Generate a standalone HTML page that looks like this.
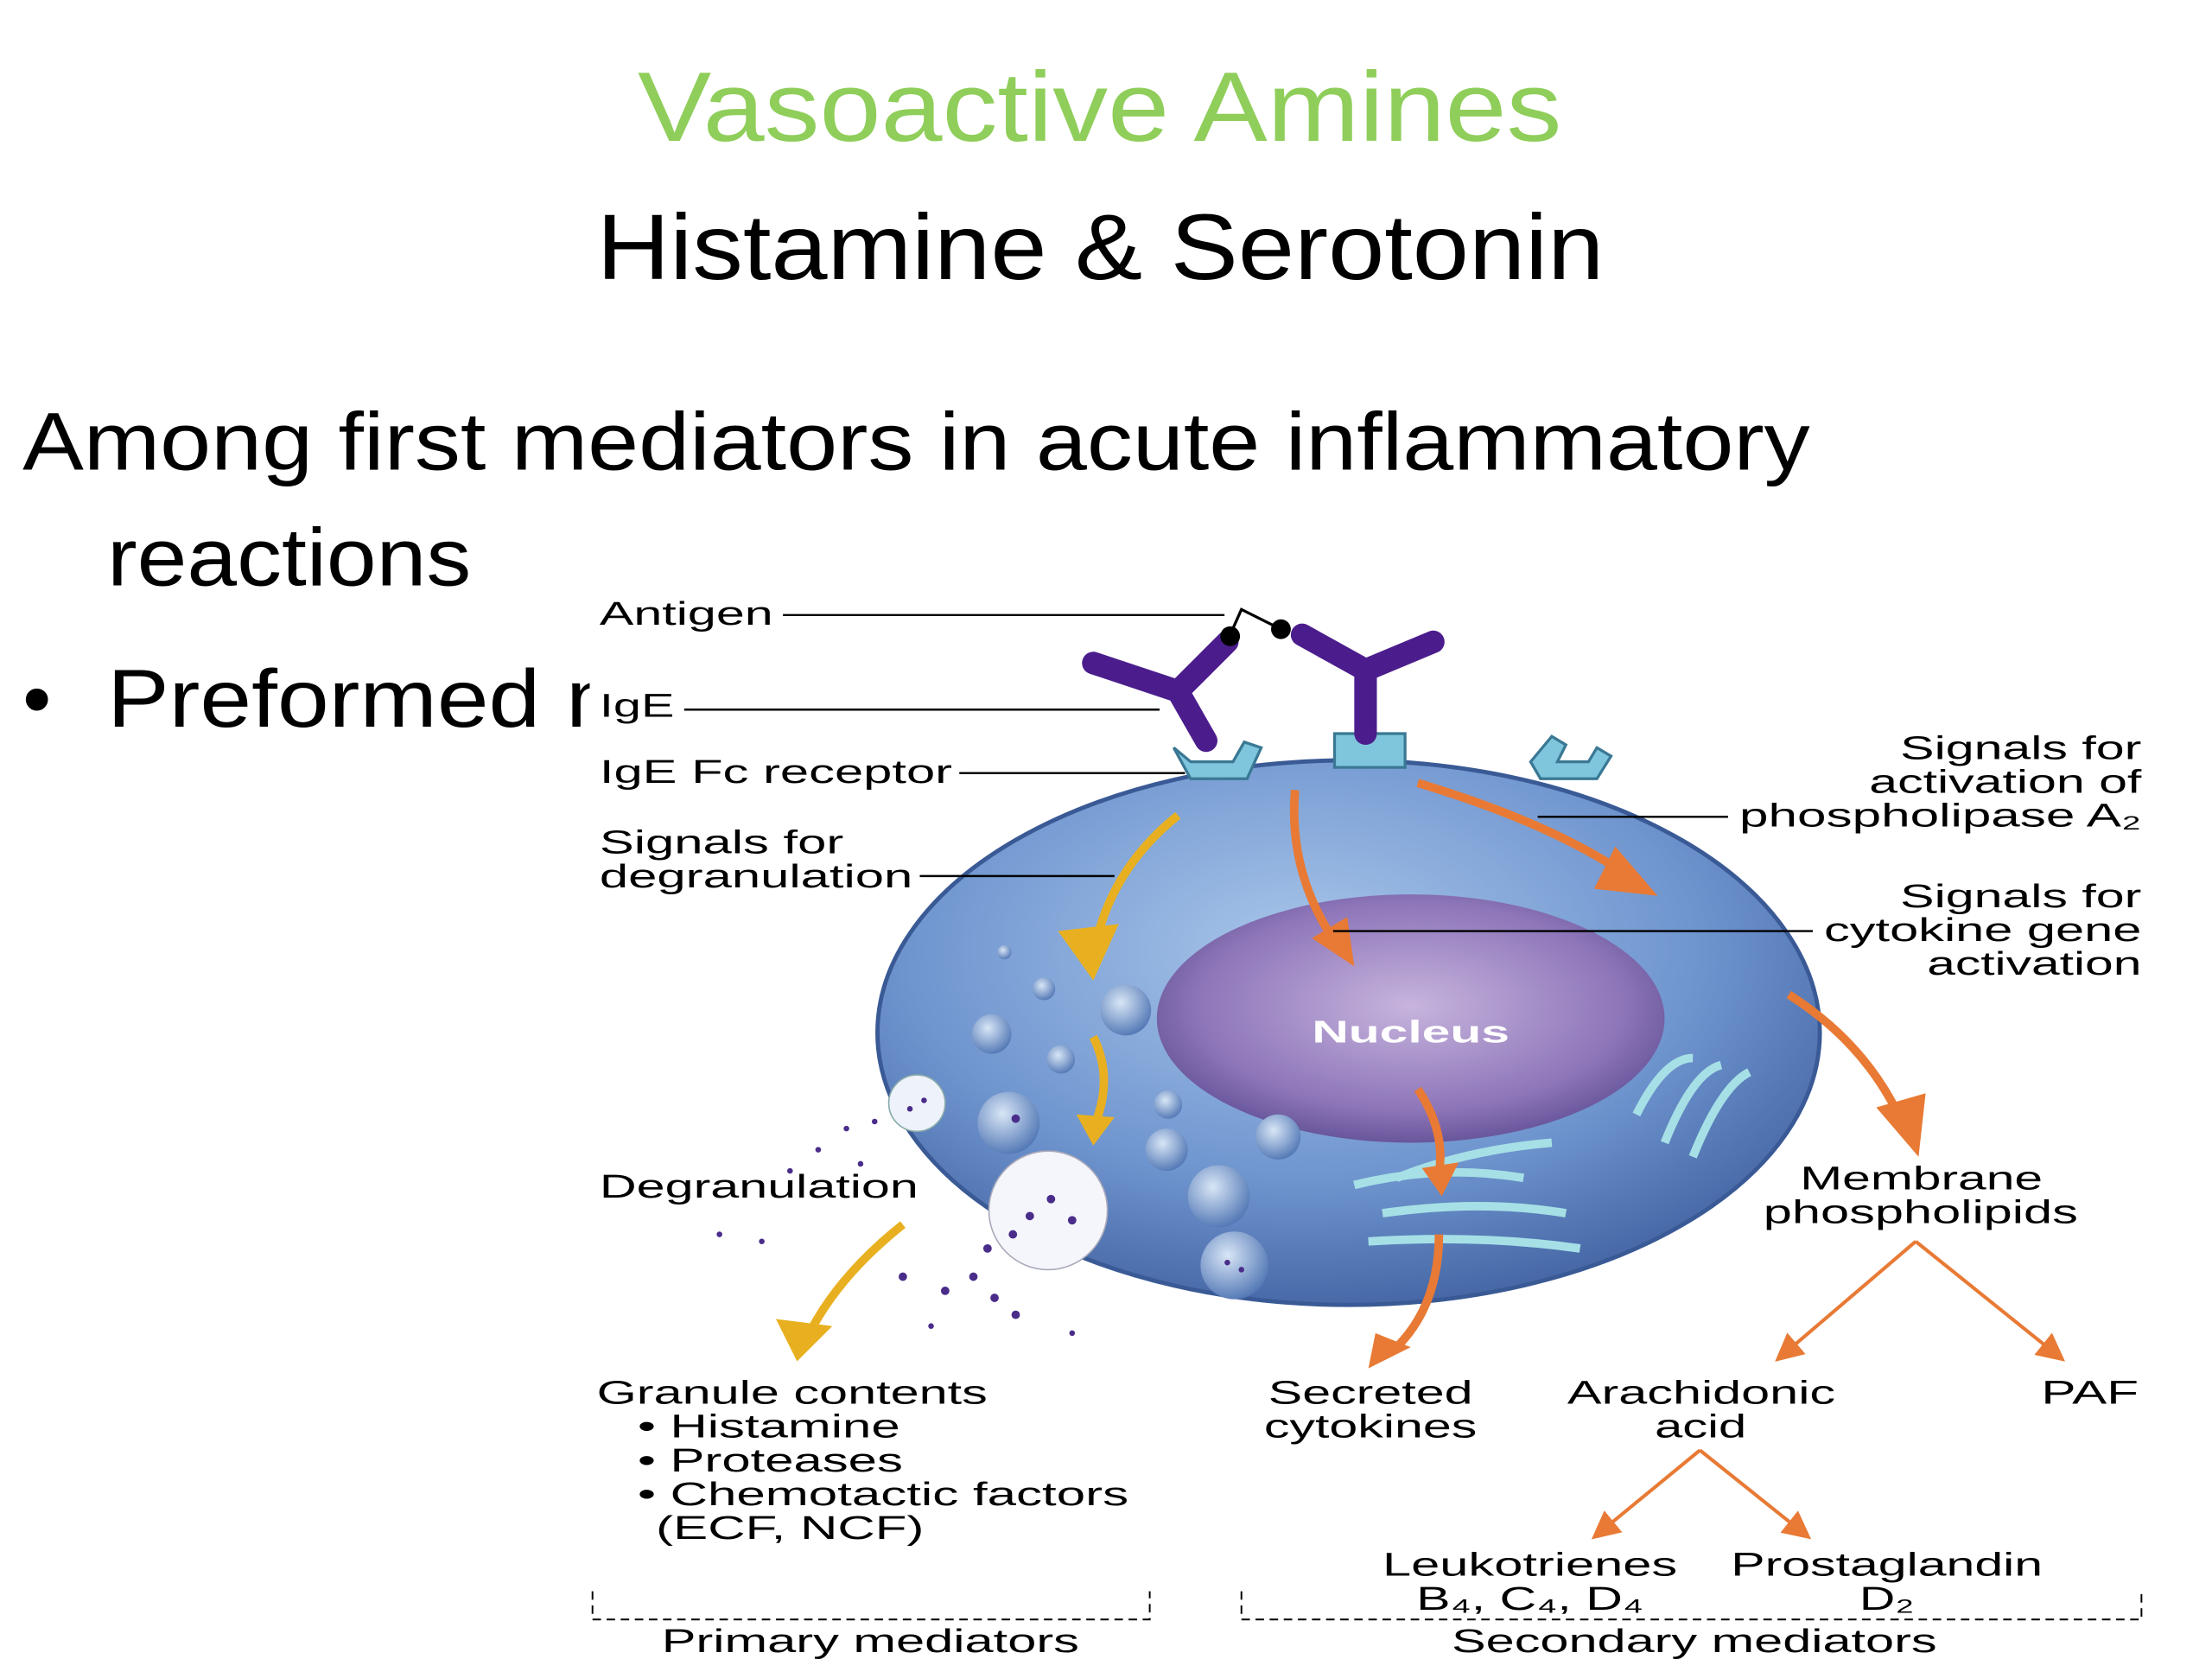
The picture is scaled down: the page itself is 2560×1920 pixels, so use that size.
<!DOCTYPE html>
<html><head><meta charset="utf-8"><style>
html,body{margin:0;padding:0;background:#fff;width:2560px;height:1920px;overflow:hidden}
svg{display:block}
</style></head><body>
<svg width="2560" height="1920" viewBox="0 0 1568 1176" xmlns="http://www.w3.org/2000/svg">
<defs>
<radialGradient id="cell" cx="0.45" cy="0.35" r="0.7">
<stop offset="0" stop-color="#a9c6ea"/><stop offset="0.6" stop-color="#6f95cf"/><stop offset="1" stop-color="#3f5f9e"/>
</radialGradient>
<radialGradient id="nuc" cx="0.5" cy="0.45" r="0.6">
<stop offset="0" stop-color="#c7b4dd"/><stop offset="0.7" stop-color="#8d75b9"/><stop offset="1" stop-color="#5b4b8f"/>
</radialGradient>
<radialGradient id="gran" cx="0.4" cy="0.35" r="0.7">
<stop offset="0" stop-color="#d8e6f6"/><stop offset="1" stop-color="#4e74b3"/>
</radialGradient>
<marker id="oa" markerWidth="8" markerHeight="8" refX="6" refY="4" orient="auto"><path d="M0,0 L8,4 L0,8 z" fill="#e87a35"/></marker>
</defs>
<rect width="1568" height="1176" fill="#fff"/>
<g font-family="Liberation Sans, sans-serif" lengthAdjust="spacingAndGlyphs">
<text x="452" y="100" font-size="70" fill="#8fce5a" textLength="655" lengthAdjust="spacingAndGlyphs">Vasoactive Amines</text>
<text x="423" y="198" font-size="66" fill="#000" textLength="714" lengthAdjust="spacingAndGlyphs">Histamine &amp; Serotonin</text>
<text x="16" y="333" font-size="58" fill="#000" textLength="1267" lengthAdjust="spacingAndGlyphs">Among first mediators in acute inflammatory</text>
<text x="76" y="415" font-size="58" fill="#000" textLength="258" lengthAdjust="spacingAndGlyphs">reactions</text>
<text x="16" y="515" font-size="58" fill="#000">•</text>
<text x="76" y="515" font-size="58" fill="#000" textLength="380" lengthAdjust="spacingAndGlyphs">Preformed m</text>
</g>
<rect x="418" y="420" width="1130" height="756" fill="#fff"/>
<ellipse cx="956" cy="732" rx="334" ry="193" fill="url(#cell)" stroke="#3a5a96" stroke-width="3"/>
<ellipse cx="1000" cy="722" rx="180" ry="88" fill="url(#nuc)"/>
<text x="1000" y="739" text-anchor="middle" font-family="Liberation Sans, sans-serif" font-weight="bold" font-size="22" fill="#fff" textLength="140" lengthAdjust="spacingAndGlyphs">Nucleus</text>
<g fill="url(#gran)">
<circle cx="798" cy="716" r="18"/><circle cx="703" cy="733" r="14"/><circle cx="740" cy="701" r="8"/><circle cx="752" cy="751" r="10"/>
<circle cx="712" cy="675" r="5"/><circle cx="828" cy="783" r="10"/><circle cx="827" cy="815" r="15"/><circle cx="864" cy="848" r="22"/>
<circle cx="906" cy="806" r="16"/><circle cx="715" cy="796" r="22"/><circle cx="875" cy="897" r="24"/>
</g>
<circle cx="650" cy="782" r="20" fill="#eef2fa" stroke="#8aa" />
<circle cx="743" cy="858" r="42" fill="#f4f6fb" stroke="#aab"/>
<g fill="#4a2d8a">
<circle cx="730" cy="862" r="3"/><circle cx="745" cy="850" r="3"/><circle cx="760" cy="865" r="3"/><circle cx="718" cy="875" r="3"/><circle cx="700" cy="885" r="3"/>
<circle cx="690" cy="905" r="3"/><circle cx="670" cy="915" r="3"/><circle cx="705" cy="920" r="3"/><circle cx="640" cy="905" r="3"/><circle cx="600" cy="800" r="2"/>
<circle cx="580" cy="815" r="2"/><circle cx="620" cy="795" r="2"/><circle cx="610" cy="825" r="2"/><circle cx="560" cy="830" r="2"/><circle cx="510" cy="875" r="2"/>
<circle cx="660" cy="940" r="2"/><circle cx="720" cy="932" r="3"/><circle cx="760" cy="945" r="2"/><circle cx="540" cy="880" r="2"/><circle cx="720" cy="793" r="3"/>
<circle cx="870" cy="895" r="2"/><circle cx="880" cy="900" r="2"/><circle cx="655" cy="780" r="2"/><circle cx="645" cy="786" r="2"/>
</g>
<g fill="none" stroke="#a6e0e6" stroke-width="6">
<path d="M960 840 q60 -15 120 -5"/><path d="M980 860 q70 -10 130 0"/><path d="M970 880 q80 -5 150 5"/><path d="M990 835 q50 -20 110 -25"/>
<path d="M1160 790 q20 -40 40 -40"/><path d="M1180 810 q20 -50 40 -55"/><path d="M1200 820 q20 -50 40 -60"/>
</g>
<g fill="#7fc6dc" stroke="#3a7894" stroke-width="2">
<path d="M832 530 l12 10 h30 l8 -14 l12 4 l-10 22 h-40 z"/>
<path d="M946 520 h50 v24 h-50 z"/>
<path d="M1085 540 l15 -18 l10 6 l-6 12 h22 l6 -10 l10 6 l-10 16 h-40 z"/>
</g>
<g stroke="#4b1d8c" stroke-width="16" fill="none" stroke-linecap="round">
<path d="M855 525 l-20 -35 l-60 -20"/><path d="M835 490 l35 -35"/>
<path d="M968 520 v-45 l-45 -25"/><path d="M968 475 l48 -20"/>
</g>
<path d="M872 450 l8 -18 l28 14" stroke="#000" stroke-width="2" fill="none"/>
<circle cx="872" cy="451" r="7" fill="#000"/><circle cx="908" cy="446" r="7" fill="#000"/>
<g fill="none" stroke="#e8b020" stroke-width="6">
<path d="M835 578 q-50 40 -60 100"/><path d="M775 735 q15 30 0 65"/><path d="M640 868 q-50 40 -70 85"/>
</g>
<g fill="#e8b020"><path d="M750 660 l25 35 l18 -40 z"/><path d="M763 790 l12 22 l15 -20 z"/><path d="M550 935 l15 30 l25 -25 z"/></g>
<g fill="none" stroke="#e87a35" stroke-width="6">
<path d="M918 560 q-5 60 30 110"/><path d="M1005 555 q100 30 155 70"/><path d="M1268 705 q55 35 80 90"/>
<path d="M1005 772 q20 30 15 60"/><path d="M1020 875 q0 50 -30 80"/>
</g>
<g fill="#e87a35"><path d="M930 665 l30 20 l-5 -35 z"/><path d="M1145 600 l30 35 l-45 -5 z"/><path d="M1330 785 l30 35 l5 -45 z"/><path d="M1008 828 l14 20 l12 -24 z"/><path d="M975 945 l-5 25 l30 -15 z"/></g>
<g stroke="#000" stroke-width="1.5">
<line x1="555" y1="436" x2="868" y2="436"/><line x1="485" y1="503" x2="822" y2="503"/><line x1="680" y1="548" x2="840" y2="548"/>
<line x1="652" y1="621" x2="790" y2="621"/><line x1="1090" y1="579" x2="1225" y2="579"/><line x1="945" y1="660" x2="1285" y2="660"/>
</g>
<g stroke="#e87a35" stroke-width="2.5" fill="none" marker-end="url(#oa)">
<path d="M1358 880 L1262 962"/><path d="M1358 880 L1460 962"/><path d="M1205 1028 L1132 1088"/><path d="M1205 1028 L1280 1088"/>
</g>
<g stroke="#000" stroke-width="1.2" stroke-dasharray="6,4" fill="none">
<path d="M420 1128 v20 h395 v-20"/><path d="M880 1128 v20 h638 v-20"/>
</g>
<g font-family="Liberation Sans, sans-serif" font-size="23" fill="#000" lengthAdjust="spacingAndGlyphs">
<text x="425" y="443" textLength="123" lengthAdjust="spacingAndGlyphs">Antigen</text>
<text x="425" y="508" textLength="53" lengthAdjust="spacingAndGlyphs">IgE</text>
<text x="425" y="555" textLength="250" lengthAdjust="spacingAndGlyphs">IgE Fc receptor</text>
<text x="425" y="605" textLength="173" lengthAdjust="spacingAndGlyphs">Signals for</text><text x="425" y="629" textLength="222" lengthAdjust="spacingAndGlyphs">degranulation</text>
<text x="1347" y="538" textLength="171" lengthAdjust="spacingAndGlyphs">Signals for</text><text x="1325" y="562" textLength="193" lengthAdjust="spacingAndGlyphs">activation of</text><text x="1233" y="586" textLength="285" lengthAdjust="spacingAndGlyphs">phospholipase A₂</text>
<text x="1347" y="643" textLength="171" lengthAdjust="spacingAndGlyphs">Signals for</text><text x="1293" y="667" textLength="225" lengthAdjust="spacingAndGlyphs">cytokine gene</text><text x="1366" y="691" textLength="152" lengthAdjust="spacingAndGlyphs">activation</text>
<text x="425" y="849" textLength="226" lengthAdjust="spacingAndGlyphs">Degranulation</text>
<text x="1276" y="843" textLength="172" lengthAdjust="spacingAndGlyphs">Membrane</text><text x="1250" y="867" textLength="223" lengthAdjust="spacingAndGlyphs">phospholipids</text>
<text x="423" y="995" textLength="277" lengthAdjust="spacingAndGlyphs">Granule contents</text>
<text x="452" y="1019" textLength="186" lengthAdjust="spacingAndGlyphs">• Histamine</text><text x="452" y="1043" textLength="188" lengthAdjust="spacingAndGlyphs">• Proteases</text><text x="452" y="1067" textLength="348" lengthAdjust="spacingAndGlyphs">• Chemotactic factors</text><text x="465" y="1091" textLength="190" lengthAdjust="spacingAndGlyphs">(ECF, NCF)</text>
<text x="899" y="995" textLength="145" lengthAdjust="spacingAndGlyphs">Secreted</text><text x="896" y="1019" textLength="151" lengthAdjust="spacingAndGlyphs">cytokines</text>
<text x="1111" y="995" textLength="190" lengthAdjust="spacingAndGlyphs">Arachidonic</text><text x="1173" y="1019" textLength="65" lengthAdjust="spacingAndGlyphs">acid</text>
<text x="1447" y="995" textLength="69" lengthAdjust="spacingAndGlyphs">PAF</text>
<text x="980" y="1117" textLength="209" lengthAdjust="spacingAndGlyphs">Leukotrienes</text><text x="1004" y="1141" textLength="161" lengthAdjust="spacingAndGlyphs">B₄, C₄, D₄</text>
<text x="1227" y="1117" textLength="221" lengthAdjust="spacingAndGlyphs">Prostaglandin</text><text x="1318" y="1141" textLength="39" lengthAdjust="spacingAndGlyphs">D₂</text>
<text x="469" y="1171" textLength="296" lengthAdjust="spacingAndGlyphs">Primary mediators</text>
<text x="1029" y="1171" textLength="344" lengthAdjust="spacingAndGlyphs">Secondary mediators</text>
</g>
</svg>
</body></html>
